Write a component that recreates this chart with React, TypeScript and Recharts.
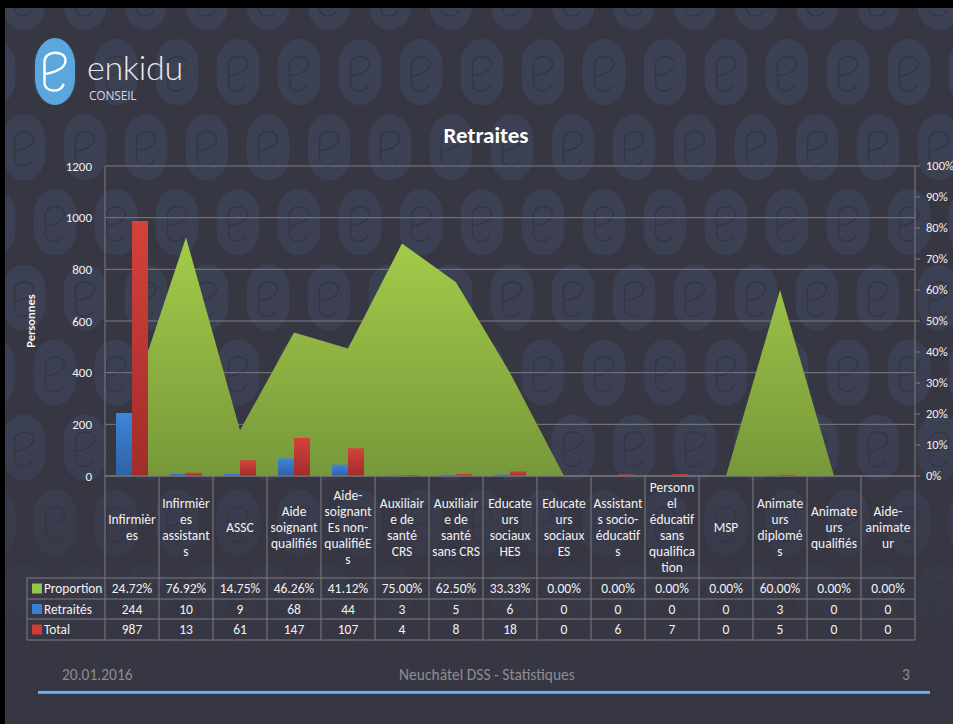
import React from 'react';
import { ComposedChart, Area, Bar, XAxis, YAxis, CartesianGrid, Label } from 'recharts';

// ---------- data ----------
const categoryLabels = [
  'Infirmièr\nes',
  'Infirmièr\nes\nassistant\ns',
  'ASSC',
  'Aide\nsoignant\nqualifiés',
  'Aide-\nsoignant\nEs non-\nqualifiéE\ns',
  'Auxiliair\ne de\nsanté\nCRS',
  'Auxiliair\ne de\nsanté\nsans CRS',
  'Educate\nurs\nsociaux\nHES',
  'Educate\nurs\nsociaux\nES',
  'Assistant\ns socio-\néducatif\ns',
  'Personn\nel\néducatif\nsans\nqualifica\ntion',
  'MSP',
  'Animate\nurs\ndiplomé\ns',
  'Animate\nurs\nqualifiés',
  'Aide-\nanimate\nur',
];
const proportion = [24.72, 76.92, 14.75, 46.26, 41.12, 75.0, 62.5, 33.33, 0, 0, 0, 0, 60.0, 0, 0];
const retraites = [244, 10, 9, 68, 44, 3, 5, 6, 0, 0, 0, 0, 3, 0, 0];
const total = [987, 13, 61, 147, 107, 4, 8, 18, 0, 6, 7, 0, 5, 0, 0];
const leftTicks = [0, 200, 400, 600, 800, 1000, 1200];
const rightTicks = [0, 10, 20, 30, 40, 50, 60, 70, 80, 90, 100];
const seriesNames = ['Proportion', 'Retraités', 'Total'];
const chartTitle = 'Retraites';
const yAxisTitle = 'Personnes';
const footerDate = '20.01.2016';
const footerCenter = 'Neuchâtel DSS - Statistiques';
const footerPage = '3';

const data = categoryLabels.map((name, i) => ({
  name,
  proportion: proportion[i],
  retraites: retraites[i],
  total: total[i],
}));

// ---------- styles ----------
const W = 953;
const H = 724;
const BG = '#373643';
const OVAL = '#3c4154';
const GLYPH = '#353644';
const GRID = '#7c7c80';
const TXT = '#f2f2f2';
const FONT = "Carlito, 'Open Sans', sans-serif";
const GREEN = '#92c643';
const BLUE = '#3a7fd0';
const RED = '#cf3b36';

const PLOT_W = 810;
const CELL_W = PLOT_W / categoryLabels.length;
const HEADER_H = 102;
const ROW_H = [21, 20, 21];
const LEGEND_W = 78;
const LINE_H = 16;
const TABLE_FS = 13.5;

const glyphPath = (cx: number, cy: number, s: number) => {
  const p = (dx: number, dy: number) => `${cx + dx * s},${cy + dy * s}`;
  return `M ${p(8, 12)} C ${p(6, 20)} ${p(-10, 20)} ${p(-10, 10)} L ${p(-10, -10)} C ${p(-10, -21)} ${p(10, -21)} ${p(10, -11)} C ${p(10, -4)} ${p(1, 0)} ${p(-10, 2)}`;
};

const Background = () => {
  const ovals: React.ReactNode[] = [];
  for (let k = 0; k < 11; k++) {
    const cy = -3 + 75.1 * k;
    const x0 = k % 2 === 0 ? 24 : 55;
    for (let j = -1; j < 17; j++) {
      const cx = x0 + 61 * j;
      ovals.push(
        <g key={`${k}-${j}`}>
          <rect x={cx - 21.5} y={cy - 33} width={43} height={66} rx={21} ry={25} fill={OVAL} />
          <path d={glyphPath(cx, cy + 2, 0.95)} fill="none" stroke={GLYPH} strokeWidth={1.4} />
        </g>
      );
    }
  }
  return (
    <svg width={W} height={H} style={{ position: 'absolute', left: 0, top: 0 }}>
      <defs>
        <linearGradient id="fadeG" x1="0" y1="0" x2="0" y2={H} gradientUnits="userSpaceOnUse">
          <stop offset="0" stopColor="#fff" stopOpacity={1} />
          <stop offset="0.6" stopColor="#fff" stopOpacity={0.9} />
          <stop offset="0.8" stopColor="#fff" stopOpacity={0.35} />
          <stop offset="0.92" stopColor="#fff" stopOpacity={0} />
        </linearGradient>
        <mask id="fadeM">
          <rect x={0} y={0} width={W} height={H} fill="url(#fadeG)" />
        </mask>
      </defs>
      <rect x={0} y={0} width={W} height={H} fill={BG} />
      <g mask="url(#fadeM)">{ovals}</g>
      {/* frame */}
      <rect x={0} y={0} width={W} height={8} fill="#000" />
      <rect x={0} y={0} width={5} height={H} fill="#000" />
      {/* logo */}
      <rect x={35} y={38} width={40} height={67} rx={20} ry={27} fill="#5ba6dd" />
      <path d={glyphPath(55, 72, 1.05)} fill="none" stroke="#fff" strokeWidth={2.4} strokeLinecap="round" />
      <text x={87} y={80} fill="#e9e9ec" fontFamily="Lato, 'Open Sans', sans-serif" fontWeight={300} fontSize={34} letterSpacing={-0.3}>
        enkidu
      </text>
      <text x={89} y={100} fill="#d8d8dc" fontFamily="'Open Sans', sans-serif" fontSize={12} letterSpacing={-0.2}>
        CONSEIL
      </text>
      {/* title */}
      <text x={486} y={143} textAnchor="middle" fill="#fff" fontFamily={FONT} fontWeight={700} fontSize={23}>
        {chartTitle}
      </text>
      {/* footer */}
      <text x={62} y={680} fill="#8d8d92" fontFamily={FONT} fontSize={15.5}>
        {footerDate}
      </text>
      <text x={487} y={680} textAnchor="middle" fill="#8d8d92" fontFamily={FONT} fontSize={15.5}>
        {footerCenter}
      </text>
      <text x={906} y={680} textAnchor="middle" fill="#8d8d92" fontFamily={FONT} fontSize={15.5}>
        {footerPage}
      </text>
      <rect x={38} y={690} width={892} height={4.5} fill="#2c4a66" opacity={0.6} />
      <rect x={38} y={691} width={892} height={2.8} fill="#6cb3e3" />
    </svg>
  );
};

const legendColors = [GREEN, BLUE, RED];

const TableTick = (props: any) => {
  const { x, y, payload } = props;
  const i: number = payload && payload.index != null ? payload.index : props.index;
  const half = CELL_W / 2;
  const lines = categoryLabels[i].split('\n');
  const headMid = y + HEADER_H / 2;
  const rowTops = [y + HEADER_H, y + HEADER_H + ROW_H[0], y + HEADER_H + ROW_H[0] + ROW_H[1]];
  const bottom = rowTops[2] + ROW_H[2];
  const values = [`${proportion[i].toFixed(2)}%`, `${retraites[i]}`, `${total[i]}`];
  const txt = { fill: TXT, fontFamily: FONT, fontSize: TABLE_FS } as any;
  const lineProps = { stroke: GRID, strokeWidth: 1 };
  const leftX = x - half;
  return (
    <g>
      <line x1={leftX} y1={y} x2={leftX} y2={bottom} {...lineProps} />
      {i === categoryLabels.length - 1 && <line x1={x + half} y1={y} x2={x + half} y2={bottom} {...lineProps} />}
      {[...rowTops, bottom].map((ry, k) => (
        <line key={k} x1={leftX} y1={ry} x2={x + half} y2={ry} {...lineProps} />
      ))}
      {lines.map((l, k) => (
        <text key={k} x={x} y={headMid + (k - (lines.length - 1) / 2) * LINE_H} dy="0.35em" textAnchor="middle" {...txt}>
          {l}
        </text>
      ))}
      {values.map((v, k) => (
        <text key={k} x={x} y={rowTops[k] + ROW_H[k] / 2} dy="0.35em" textAnchor="middle" {...txt}>
          {v}
        </text>
      ))}
      {i === 0 && (
        <g>
          <line x1={leftX - LEGEND_W} y1={rowTops[0]} x2={leftX - LEGEND_W} y2={bottom} {...lineProps} />
          {[...rowTops, bottom].map((ry, k) => (
            <line key={k} x1={leftX - LEGEND_W} y1={ry} x2={leftX} y2={ry} {...lineProps} />
          ))}
          {seriesNames.map((s, k) => (
            <g key={s}>
              <rect x={leftX - LEGEND_W + 5} y={rowTops[k] + ROW_H[k] / 2 - 5} width={10} height={10} fill={legendColors[k]} />
              <text x={leftX - LEGEND_W + 17} y={rowTops[k] + ROW_H[k] / 2} dy="0.35em" textAnchor="start" {...txt} fontSize={13.3}>
                {s}
              </text>
            </g>
          ))}
        </g>
      )}
    </g>
  );
};

const PersonnesLabel = (props: any) => {
  const vb = props.viewBox || { x: 5, y: 166, width: 100, height: 310 };
  const cx = 31;
  const cy = vb.y + vb.height / 2;
  return (
    <text x={cx} y={cy} transform={`rotate(-90 ${cx} ${cy})`} textAnchor="middle" dy="0.35em" fill={TXT} fontFamily={FONT} fontWeight={700} fontSize={12.5}>
      {yAxisTitle}
    </text>
  );
};

export default function App() {
  return (
    <div style={{ position: 'absolute', left: 0, top: 0, width: W, height: H, overflow: 'hidden', background: BG }}>
      <Background />
      <div style={{ position: 'absolute', left: 0, top: 0 }}>
        <ComposedChart
          width={W}
          height={H}
          data={data}
          margin={{ top: 166, right: 0, bottom: 84, left: 5 }}
          barGap={0}
          barSize={16}
        >
          <defs>
            <linearGradient id="gArea" x1="0" y1="0" x2="0" y2="1">
              <stop offset="0%" stopColor="#a3cc4a" />
              <stop offset="100%" stopColor="#77983a" />
            </linearGradient>
            <linearGradient id="gBlue" x1="0" y1="0" x2="0" y2="1">
              <stop offset="0%" stopColor="#3d86da" />
              <stop offset="100%" stopColor="#2d62a6" />
            </linearGradient>
            <linearGradient id="gRed" x1="0" y1="0" x2="0" y2="1">
              <stop offset="0%" stopColor="#d5413b" />
              <stop offset="100%" stopColor="#a02d2a" />
            </linearGradient>
          </defs>
          <CartesianGrid yAxisId="left" vertical={false} stroke={GRID} strokeWidth={1} />
          <XAxis
            dataKey="name"
            interval={0}
            tick={<TableTick />}
            tickLine={false}
            tickSize={0}
            tickMargin={0}
            height={164}
            axisLine={{ stroke: GRID }}
          />
          <YAxis
            yAxisId="left"
            domain={[0, 1200]}
            ticks={leftTicks}
            interval={0}
            width={100}
            tickLine={false}
            tickSize={0}
            tickMargin={13}
            axisLine={{ stroke: GRID }}
            tick={{ fill: TXT, fontSize: 13, fontFamily: FONT }}
          >
            <Label content={<PersonnesLabel />} />
          </YAxis>
          <YAxis
            yAxisId="right"
            orientation="right"
            domain={[0, 100]}
            ticks={rightTicks}
            interval={0}
            width={38}
            tickSize={5}
            tickMargin={6}
            tickLine={{ stroke: GRID }}
            axisLine={{ stroke: GRID }}
            tickFormatter={(v: number) => `${v}%`}
            tick={{ fill: TXT, fontSize: 12.5, fontFamily: FONT }}
          />
          <Area
            yAxisId="right"
            type="linear"
            dataKey="proportion"
            fill="url(#gArea)"
            fillOpacity={1}
            stroke="none"
            dot={false}
            activeDot={false}
            isAnimationActive={false}
          />
          <Bar yAxisId="left" dataKey="retraites" fill="url(#gBlue)" isAnimationActive={false} />
          <Bar yAxisId="left" dataKey="total" fill="url(#gRed)" isAnimationActive={false} />
        </ComposedChart>
      </div>
    </div>
  );
}
